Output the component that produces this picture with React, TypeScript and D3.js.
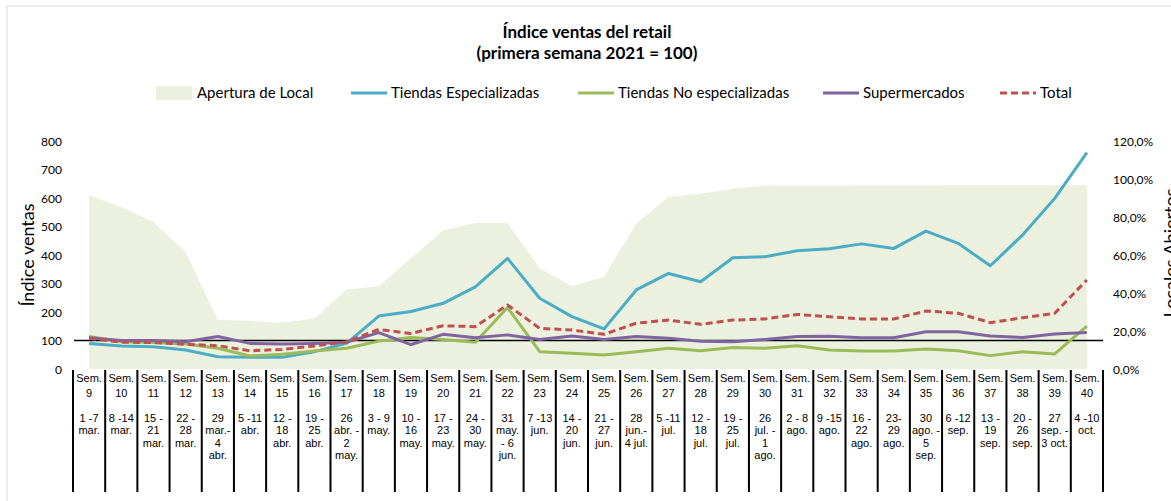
import React from "react";
import * as d3 from "d3";

const weeks = ["9","10","11","12","13","14","15","16","17","18","19","20","21","22","23","24","25","26","27","28","29","30","31","32","33","34","35","36","37","38","39","40"];
const dateLabels = [
  "1 -7\nmar.", "8 -14\nmar.", "15 -\n21\nmar.", "22 -\n28\nmar.", "29\nmar.-\n4\nabr.",
  "5 -11\nabr.", "12 -\n18\nabr.", "19 -\n25\nabr.", "26\nabr. -\n2\nmay.", "3 - 9\nmay.",
  "10 -\n16\nmay.", "17 -\n23\nmay.", "24 -\n30\nmay.", "31\nmay.\n- 6\njun.", "7 -13\njun.",
  "14 -\n20\njun.", "21 -\n27\njun.", "28\njun.-\n4 jul.", "5 -11\njul.", "12 -\n18\njul.",
  "19 -\n25\njul.", "26\njul. -\n1\nago.", "2 - 8\nago.", "9 -15\nago.", "16 -\n22\nago.",
  "23-\n29\nago.", "30\nago. -\n5\nsep.", "6 -12\nsep.", "13 -\n19\nsep.", "20 -\n26\nsep.",
  "27\nsep. -\n3 oct.", "4 -10\noct."
];

const aperturaLocal = [91.6, 85.4, 77.5, 61.7, 25.8, 25.4, 24.4, 26.7, 41.9, 43.7, 58.4, 73.2, 77, 77, 53, 43.7, 48.6, 76.7, 90.7, 92.5, 95.1, 96.8, 96.6, 96.6, 96.8, 96.8, 96.8, 96.9, 96.9, 96.9, 96.9, 96.9];
const tiendasEspecializadas = [90, 81, 78, 67, 43, 41, 41, 61, 90, 186, 202, 231, 289, 389, 249, 184, 141, 278, 336, 307, 391, 395, 416, 423, 440, 424, 485, 442, 363, 471, 600, 761];
const tiendasNoEspecializadas = [114, 96, 93, 88, 73, 46, 52, 63, 73, 98, 111, 104, 94, 216, 61, 55, 49, 61, 73, 64, 76, 73, 82, 67, 63, 63, 70, 64, 47, 61, 53, 151];
const supermercados = [110, 100, 100, 96, 114, 90, 88, 90, 94, 128, 86, 122, 110, 120, 104, 116, 104, 114, 108, 98, 96, 104, 114, 115, 110, 110, 131, 131, 116, 111, 123, 128];
const total = [108, 94, 93, 87, 82, 64, 69, 81, 96, 139, 125, 152, 149, 225, 143, 137, 122, 161, 172, 157, 172, 176, 192, 184, 176, 176, 204, 196, 163, 180, 196, 313];

const leftTicks = [0, 100, 200, 300, 400, 500, 600, 700, 800];
const rightTicks = [0, 20, 40, 60, 80, 100, 120];

const W = 1171, H = 501;
const plotLeft = 73, plotRight = 1103, plotTop = 141.5, plotBottom = 369;
const FONT = "Lato, 'Open Sans', sans-serif";
const CAT_FONT = "'Liberation Sans', Arial, sans-serif";

export default function App() {
  const x = d3.scaleBand<string>().domain(weeks).range([plotLeft, plotRight]).padding(0);
  const cx = (i: number) => (x(weeks[i]) as number) + x.bandwidth() / 2;
  const yL = d3.scaleLinear().domain([0, 800]).range([plotBottom, plotTop]);
  const yR = d3.scaleLinear().domain([0, 120]).range([plotBottom, plotTop]);

  const area = d3.area<number>().x((_, i) => cx(i)).y0(yR(0)).y1((d) => yR(d));
  const line = d3.line<number>().x((_, i) => cx(i)).y((d) => yL(d));

  const series = [
    { name: "Tiendas Especializadas", data: tiendasEspecializadas, color: "#4BACC6", dash: undefined },
    { name: "Tiendas No especializadas", data: tiendasNoEspecializadas, color: "#9BBB59", dash: undefined },
    { name: "Supermercados", data: supermercados, color: "#8064A2", dash: undefined },
    { name: "Total", data: total, color: "#C0504D", dash: "7,4" },
  ];

  const boundaries = weeks.map((w) => x(w) as number).concat([plotRight]);

  const legendItems = [
    { kind: "area", label: "Apertura de Local", x0: 156, color: "#EBF1DE", dash: undefined },
    { kind: "line", label: "Tiendas Especializadas", x0: 351, color: "#4BACC6", dash: undefined },
    { kind: "line", label: "Tiendas No especializadas", x0: 578, color: "#9BBB59", dash: undefined },
    { kind: "line", label: "Supermercados", x0: 823, color: "#8064A2", dash: undefined },
    { kind: "line", label: "Total", x0: 1000, color: "#C0504D", dash: "7,4" },
  ];

  return (
    <svg width={W} height={H} style={{ position: "absolute", left: 0, top: 0, background: "#fff" }} fontFamily={FONT}>
      <rect x={7} y={6} width={W + 10} height={H + 10} fill="#fff" stroke="#d9d9d9" strokeWidth={1} />
      <text x={587} y={38} textAnchor="middle" fontSize={17} fontWeight="bold" fill="#000">Índice ventas del retail</text>
      <text x={587} y={59} textAnchor="middle" fontSize={17} fontWeight="bold" fill="#000">(primera semana 2021 = 100)</text>

      {legendItems.map((it) => (
        <g key={it.label}>
          {it.kind === "area" ? (
            <rect x={it.x0} y={86} width={36} height={14} fill={it.color} />
          ) : (
            <line x1={it.x0} x2={it.x0 + 36} y1={93} y2={93} stroke={it.color} strokeWidth={3} strokeDasharray={it.dash} />
          )}
          <text x={it.x0 + (it.kind === "area" ? 41 : 40)} y={98} fontSize={15} fill="#000">{it.label}</text>
        </g>
      ))}

      <path d={area(aperturaLocal) as string} fill="#EBF1DE" />

      <line x1={plotLeft + 1} x2={plotRight} y1={yL(100)} y2={yL(100)} stroke="#000" strokeWidth={1.5} />

      {series.map((s) => (
        <path key={s.name} d={line(s.data) as string} fill="none" stroke={s.color} strokeWidth={3} strokeDasharray={s.dash} strokeLinejoin="round" />
      ))}

      {leftTicks.map((t) => (
        <text key={"l" + t} x={62} y={yL(t) + 4.5} textAnchor="end" fontSize={12} fill="#000">{t}</text>
      ))}
      {rightTicks.map((t) => (
        <text key={"r" + t} x={1113} y={yR(t) + 4.5} textAnchor="start" fontSize={12} fill="#000">{d3.format(".1f")(t).replace(".", ",") + "%"}</text>
      ))}

      <text transform={`translate(34,255) rotate(-90)`} textAnchor="middle" fontSize={18} fill="#000">Índice ventas</text>
      <text transform={`translate(1177,253) rotate(-90)`} textAnchor="middle" fontSize={18} fill="#000">Locales Abiertos</text>

      {boundaries.map((b, i) => (
        <line key={"b" + i} x1={b} x2={b} y1={plotBottom + 1} y2={492} stroke="#000" strokeWidth={2} />
      ))}

      {weeks.map((w, i) => (
        <g key={"lab" + w} fontSize={11} fontFamily={CAT_FONT} fill="#000" textAnchor="middle">
          <text x={cx(i)} y={382}>Sem.</text>
          <text x={cx(i)} y={397}>{w}</text>
          {dateLabels[i].split("\n").map((ln, j) => (
            <text key={j} x={cx(i)} y={422 + j * 12.3}>{ln}</text>
          ))}
        </g>
      ))}
    </svg>
  );
}
